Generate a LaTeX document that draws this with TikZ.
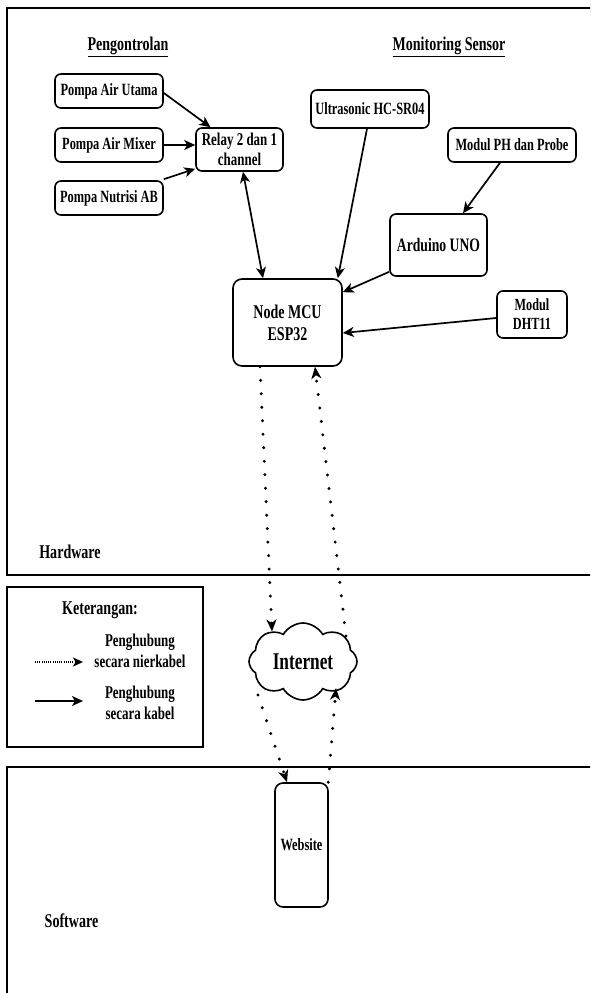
\documentclass[tikz,border=0pt]{standalone}
\usepackage{fontspec}
\setmainfont{Liberation Serif}[FakeStretch=0.72]
\usetikzlibrary{arrows.meta,shapes.symbols,calc}
\begin{document}
\begin{tikzpicture}[x=1pt,y=-1pt,
  box/.style={draw,rounded corners=6pt,line width=1.6pt,inner sep=1pt,align=center,
    font=\bfseries\fontsize{17.2}{20}\selectfont},
  lbl/.style={font=\bfseries\fontsize{19.5}{22}\selectfont,inner sep=0pt},
  frame/.style={draw,line width=1.9pt},
  wire/.style={line width=1.7pt,-{Stealth[length=11pt,width=10pt,inset=3pt]}},
  wless/.style={line width=3.3pt,line cap=round,dash pattern=on 0pt off 13.5pt,
    -{Stealth[length=12pt,width=10pt,inset=3.5pt]}},
]
\useasboundingbox (0,0) rectangle (590,993);
\clip (0,0) rectangle (590,993);
% frames
\draw[frame] (7,8) rectangle (610,575);
\draw[frame] (7,587) rectangle (203,747);
\draw[frame] (7,767) rectangle (610,1010);
% labels
\node[lbl] (hw) at (70,552) {Hardware};
\node[lbl] (sw) at (71.5,921) {Software};
\node[lbl] (peng) at (128,47) {\underline{Pengontrolan}};
\node[lbl] (mon) at (449,47) {\underline{Monitoring Sensor}};
% nodes
\node[box,minimum width=108pt,minimum height=34pt] (pau) at (109,91) {Pompa Air Utama};
\node[box,minimum width=108pt,minimum height=34pt] (pam) at (109,145) {Pompa Air Mixer};
\node[box,minimum width=108pt,minimum height=34pt] (pna) at (109,198) {Pompa Nutrisi AB};
\node[box,minimum width=87pt,minimum height=43pt,font=\bfseries\fontsize{18}{20}\selectfont] (relay) at (239.5,149.5) {Relay 2 dan 1\\channel};
\node[box,minimum width=118pt,minimum height=38pt] (ultra) at (370,109) {Ultrasonic HC-SR04};
\node[box,minimum width=128pt,minimum height=34pt] (ph) at (512,145) {Modul PH dan Probe};
\node[box,minimum width=97pt,minimum height=62pt,font=\bfseries\fontsize{19}{21}\selectfont] (uno) at (438.5,245) {Arduino UNO};
\node[box,minimum width=109pt,minimum height=87pt,rounded corners=9pt,font=\bfseries\fontsize{19.5}{22}\selectfont] (mcu) at (287.5,322.5) {Node MCU\\ESP32};
\node[box,minimum width=70pt,minimum height=47pt,font=\bfseries\fontsize{17}{19}\selectfont] (dht) at (532,314.5) {Modul\\DHT11};
\node[draw,cloud,cloud puffs=8,cloud puff arc=120,aspect=1.45,line width=1.6pt,
  minimum width=108pt,minimum height=77pt,inner sep=0pt,
  font=\bfseries\fontsize{24}{26}\selectfont] (net) at (303,661.5) {Internet};
\node[box,minimum width=53pt,minimum height=124pt,rounded corners=8pt] (web) at (301.5,845) {Website};
% legend
\node[lbl] (ket) at (100,610) {Keterangan:};
\node[inner sep=0pt,align=center,font=\bfseries\fontsize{18}{21}\selectfont] (lw) at (140,651) {Penghubung\\secara nierkabel};
\node[inner sep=0pt,align=center,font=\bfseries\fontsize{18}{21}\selectfont] (lk) at (140,703) {Penghubung\\secara kabel};
\coordinate (lwa) at (35,662);
\coordinate (lwb) at (83,662);
\coordinate (lka) at (35,701);
\coordinate (lkb) at (83,701);
\draw[line width=1.4pt,dash pattern=on 1pt off 1.2pt,-{Stealth[length=10pt,width=9pt,inset=2.5pt]}] (lwa) -- (lwb);
\draw[wire] (lka) -- (lkb);
% wired connectors
\draw[wire] ([yshift=-2pt]pau.east) -- ([xshift=-29pt]relay.north);
\draw[wire] (pam.east) -- (pam.east -| relay.west);
\draw[wire] ([yshift=1pt]pna.north east) -- ([yshift=3pt]relay.south west);
\draw[wire,{Stealth[length=11pt,width=10pt,inset=3pt]}-{Stealth[length=11pt,width=10pt,inset=3pt]}] ([xshift=3.5pt]relay.south) -- ([xshift=-24.5pt]mcu.north);
\draw[wire] ([xshift=-3pt]ultra.south) -- ([xshift=-5pt]mcu.north east);
\draw[wire] ([xshift=-12pt]ph.south) -- ([xshift=24.5pt]uno.north);
\draw[wire] ([yshift=5pt]uno.south west) -- ([yshift=-14pt]mcu.north east);
\draw[wire] ([yshift=-3.5pt]dht.west) -- ([yshift=-10.5pt]mcu.east);
% wireless connectors
\draw[wless] ([xshift=-27.5pt]mcu.south) -- ([shift={(-31pt,30pt)}]net.center);
\draw[wless] ([shift={(43pt,25.5pt)}]net.center) -- ([xshift=27.5pt]mcu.south);
\draw[wless] ([shift={(-45pt,-33.5pt)}]net.center) -- ([xshift=-14.5pt]web.north);
\draw[wless] ([xshift=-0.5pt]web.north east) -- ([shift={(33pt,-26.5pt)}]net.center);
\end{tikzpicture}
\end{document}
